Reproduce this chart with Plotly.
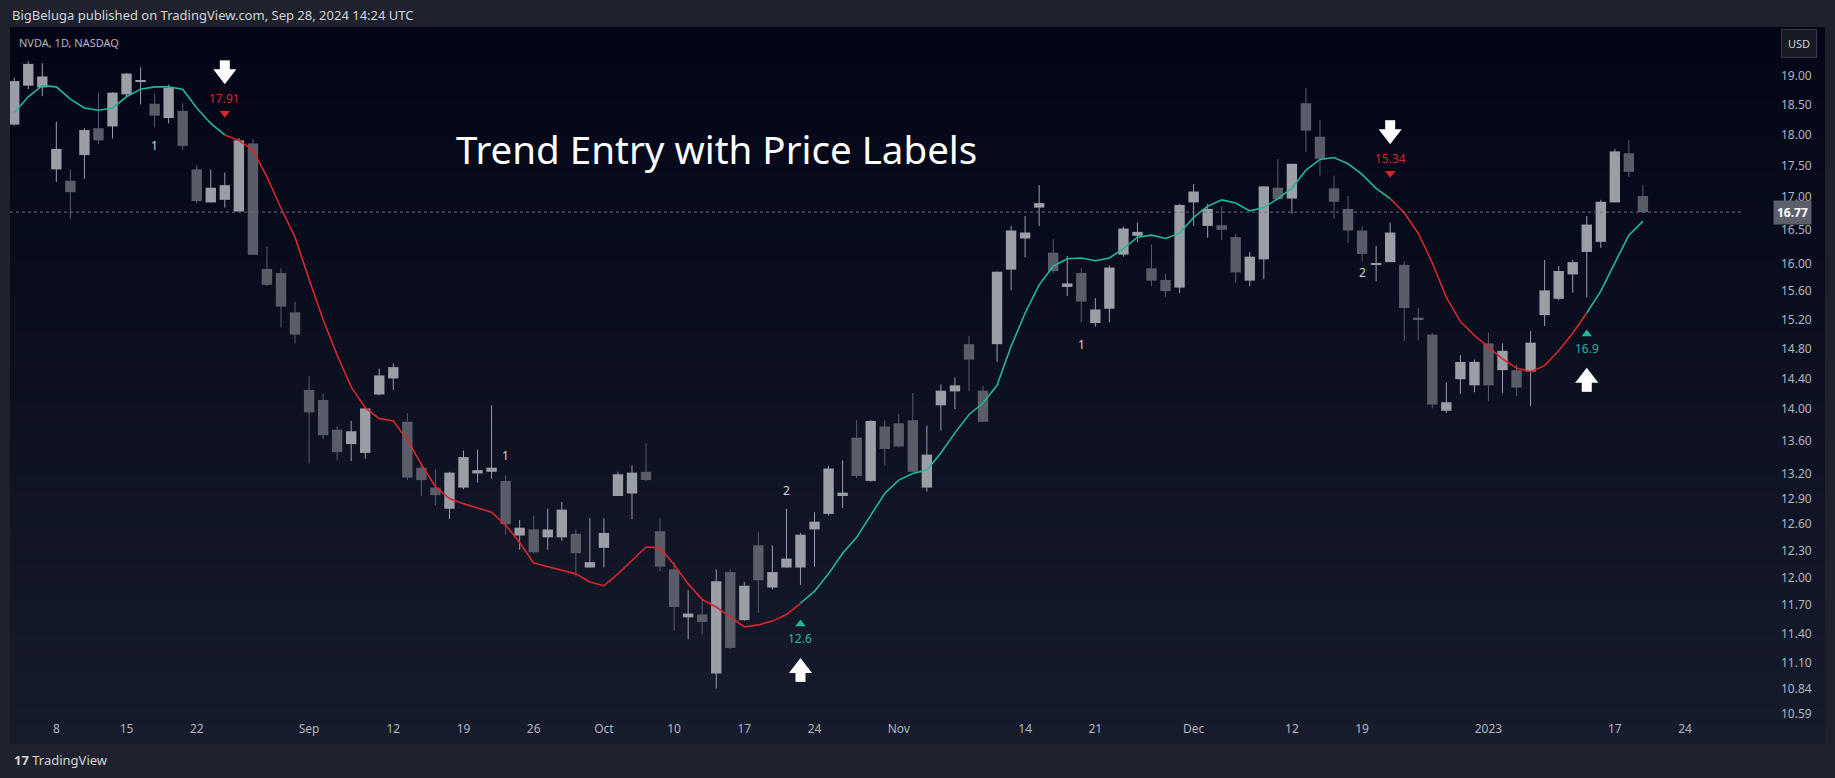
import math
import pandas as pd
import plotly.graph_objects as go

# ---------------- data ----------------
OPEN = [18.17,18.83,18.80,17.44,17.26,17.67,18.11,18.14,18.68,18.90,18.52,18.28,18.40,17.44,16.92,16.96,16.78,17.86,15.92,15.86,
        15.30,14.25,14.12,13.74,13.56,13.45,14.19,14.40,13.84,13.27,13.03,12.78,13.03,13.20,13.22,13.11,12.47,12.54,12.45,12.45,
        12.49,12.11,12.33,12.93,12.96,13.22,12.52,12.09,11.57,11.60,10.99,12.06,11.54,12.36,11.89,12.11,12.11,12.54,12.72,12.93,
        13.64,13.11,13.78,13.82,13.86,13.03,14.05,14.23,14.86,14.24,14.86,15.91,16.37,16.84,16.16,15.66,15.86,15.15,15.35,16.13,
        16.41,15.93,15.76,15.65,16.92,16.56,16.57,16.39,15.75,16.06,17.15,16.98,18.53,17.97,17.14,16.82,16.49,15.98,16.02,15.98,
        15.22,14.99,13.98,14.39,14.31,14.87,14.51,14.51,14.49,15.26,15.49,15.84,16.17,16.32,16.92,17.70,17.02]
HIGH = [18.97,19.26,19.22,18.22,17.44,18.11,18.70,18.72,19.05,19.15,18.69,18.85,18.53,17.50,17.44,17.39,17.95,17.93,16.25,15.93,
        15.45,14.43,14.20,13.78,13.85,14.01,14.53,14.60,13.95,13.31,13.25,13.22,13.48,13.49,14.05,13.18,12.65,12.70,12.78,12.86,
        12.54,12.67,12.67,13.22,13.30,13.57,12.67,12.17,11.86,11.76,12.09,12.09,11.95,12.51,12.36,12.78,12.50,12.74,13.29,13.36,
        13.86,13.86,13.86,13.94,14.21,13.79,14.32,14.41,14.97,14.30,15.88,16.56,16.71,17.19,16.36,16.11,15.93,15.50,15.97,16.55,
        16.61,16.28,15.85,16.90,17.21,16.90,16.86,16.44,16.17,17.17,17.61,17.53,18.79,18.25,17.34,17.02,16.55,16.26,16.61,16.03,
        15.36,15.01,14.35,14.71,14.65,15.02,14.87,14.59,15.04,16.05,15.96,16.05,16.71,16.96,17.77,17.92,17.20]
LOW = [18.15,18.77,18.65,17.24,16.67,17.29,17.85,17.94,18.64,18.51,18.13,18.19,17.75,16.90,16.92,16.84,16.78,16.13,15.67,15.09,
       14.87,13.32,13.62,13.36,13.35,13.38,14.18,14.25,13.12,12.93,12.82,12.66,13.01,13.09,13.14,12.48,12.31,12.26,12.31,12.41,
       12.01,12.11,12.11,12.93,12.66,13.11,12.07,11.43,11.34,11.39,10.84,11.24,11.53,11.62,11.87,12.11,11.92,12.12,12.70,12.79,
       13.14,13.10,13.30,13.52,13.22,12.98,13.73,14.00,14.23,13.84,14.62,15.61,16.09,16.56,15.86,15.53,15.16,15.10,15.16,16.10,
       16.31,15.67,15.51,15.57,16.56,16.38,16.35,15.72,15.67,15.77,16.95,16.75,17.72,17.34,16.67,16.30,16.03,15.74,16.02,14.90,
       14.91,14.01,13.95,14.20,14.22,14.11,14.21,14.17,14.04,15.11,15.47,15.58,15.51,16.23,16.92,17.32,16.76]
CLOSE = [18.91,19.21,18.99,17.77,17.08,18.08,17.91,18.71,19.04,18.91,18.32,18.79,17.82,16.94,17.15,17.19,17.91,16.13,15.69,15.38,
         14.99,13.96,13.67,13.46,13.72,14.01,14.44,14.55,13.15,13.12,12.94,13.21,13.40,13.24,13.27,12.60,12.56,12.28,12.54,12.77,
         12.27,12.17,12.50,13.19,13.21,13.12,12.12,11.68,11.61,11.52,11.96,11.25,11.91,11.97,12.06,12.21,12.48,12.63,13.26,12.97,
         13.17,13.85,13.50,13.53,13.22,13.43,14.24,14.31,14.65,13.84,15.88,16.49,16.46,16.91,15.89,15.71,15.45,15.34,15.94,16.52,
         16.47,15.75,15.60,16.88,17.09,16.82,16.50,15.87,16.10,17.17,16.97,17.53,18.07,17.61,16.93,16.49,16.14,15.99,16.46,15.36,
         15.20,14.06,14.09,14.62,14.62,14.31,14.77,14.28,14.88,15.61,15.89,16.02,16.58,16.93,17.73,17.40,16.77]
TREND_LINE = [18.37,18.64,18.83,18.81,18.60,18.45,18.41,18.45,18.64,18.77,18.81,18.81,18.77,18.45,18.19,18.00,17.91,17.75,17.32,16.83,
              16.39,15.77,15.20,14.71,14.29,14.02,13.88,13.85,13.61,13.31,13.04,12.90,12.84,12.79,12.74,12.59,12.39,12.16,12.12,12.08,
              12.04,11.95,11.91,12.04,12.19,12.34,12.33,12.14,11.93,11.76,11.68,11.57,11.47,11.49,11.53,11.60,11.72,11.85,12.04,12.27,
              12.45,12.70,12.96,13.12,13.20,13.24,13.45,13.70,13.93,14.08,14.31,14.83,15.29,15.69,15.96,16.07,16.08,16.04,16.08,16.22,
              16.39,16.42,16.37,16.45,16.69,16.86,16.96,16.91,16.79,16.84,16.98,17.14,17.43,17.60,17.63,17.53,17.36,17.14,16.98,16.76,
              16.45,16.01,15.51,15.17,14.98,14.82,14.66,14.54,14.49,14.57,14.77,15.01,15.29,15.60,16.01,16.42,16.63]
TREND_SWITCH = [0, 15, 56, 98, 112]          # bar index where trend flips
TREND_DIR = ["up", "dn", "up", "dn", "up"]

SIGNAL_IDX = [15, 56, 98, 112]
SIGNAL_DIR = ["dn", "up", "dn", "up"]
SIGNAL_TEXT = ["17.91", "12.6", "15.34", "16.9"]
SIGNAL_ANCHOR = [18.36, 11.50, 17.38, 15.00]  # price where the small triangle sits

COUNT_IDX = [10, 35, 55, 76, 96]
COUNT_TEXT = ["1", "1", "2", "1", "2"]
COUNT_Y = [17.82, 13.42, 13.00, 14.86, 15.87]

LAST_PRICE = 16.77
HOLIDAYS = ["2022-09-05", "2022-11-24", "2022-12-26", "2023-01-02", "2023-01-16"]
YTICKS = [10.59, 10.84, 11.10, 11.40, 11.70, 12.00, 12.30, 12.60, 12.90, 13.20, 13.60, 14.00, 14.40,
          14.80, 15.20, 15.60, 16.00, 16.50, 17.00, 17.50, 18.00, 18.50, 19.00]
XTICK_DATES = ["2022-08-08", "2022-08-15", "2022-08-22", "2022-09-01", "2022-09-12", "2022-09-19", "2022-09-26",
               "2022-10-03", "2022-10-10", "2022-10-17", "2022-10-24", "2022-11-01", "2022-11-14", "2022-11-21",
               "2022-12-01", "2022-12-12", "2022-12-19", "2023-01-03", "2023-01-17", "2023-01-24"]
XTICK_TEXT = ["8", "15", "22", "Sep", "12", "19", "26", "Oct", "10", "17", "24", "Nov", "14", "21",
              "Dec", "12", "19", "2023", "17", "24"]

# ---------------- build ----------------
days = pd.bdate_range("2022-08-03", "2023-02-10")
days = [d for d in days if d.strftime("%Y-%m-%d") not in HOLIDAYS]
dmap = {d.strftime("%Y-%m-%d"): i for i, d in enumerate(days)}
n = len(CLOSE)
X = list(range(n))

UP_C = "#22b997"
DN_C = "#d8262c"
BULL = "#9b9ea6"
BEAR = "#5a5d68"

W, H = 1835, 778
L_M, R_M, T_M, B_M = 10, 91, 27, 62
PW, PH = W - L_M - R_M, H - T_M - B_M
def px(xp): return (xp - L_M) / PW
def py(yp): return (H - B_M - yp) / PH
PXLN = 1093.0  # pixels per ln unit on price axis
def shift(price, pixels): return price * math.exp(pixels / PXLN)

fig = go.Figure()

# background gradient of panel
top_rgb = (2, 6, 23); bot_rgb = (23, 28, 44)
NB = 40
y0p, y1p = 27, 743
for k in range(NB):
    t = k / (NB - 1)
    c = tuple(int(top_rgb[j] + (bot_rgb[j] - top_rgb[j]) * t) for j in range(3))
    ya = y0p + (y1p - y0p) * k / NB
    yb = y0p + (y1p - y0p) * (k + 1) / NB + 1
    fig.add_shape(type="rect", xref="paper", yref="paper", x0=px(10), x1=px(1825),
                  y0=py(ya), y1=py(yb), fillcolor="rgb(%d,%d,%d)" % c, line_width=0, layer="below")

# last price dotted line
fig.add_shape(type="line", xref="paper", yref="y", x0=0, x1=1, y0=LAST_PRICE, y1=LAST_PRICE,
              line=dict(color="#6b6f7a", width=1, dash="dot"))

# candles: wicks + bodies
for bull, col in ((True, BULL), (False, BEAR)):
    idx = [i for i in X if (CLOSE[i] >= OPEN[i]) == bull]
    wx, wy = [], []
    for i in idx:
        wx += [i, i, None]; wy += [LOW[i], HIGH[i], None]
    fig.add_trace(go.Scatter(x=wx, y=wy, mode="lines", line=dict(color=col, width=1),
                             hoverinfo="skip", showlegend=False))
    base = [min(OPEN[i], CLOSE[i]) for i in idx]
    hgt = [max(abs(CLOSE[i] - OPEN[i]), 0.025) for i in idx]
    fig.add_trace(go.Bar(x=idx, y=hgt, base=base, width=0.74, marker=dict(color=col, line_width=0),
                         hoverinfo="skip", showlegend=False))

# trend line segments
bounds = TREND_SWITCH + [n - 1]
for s in range(len(TREND_SWITCH)):
    a, b = bounds[s], bounds[s + 1]
    fig.add_trace(go.Scatter(x=X[a:b + 1], y=TREND_LINE[a:b + 1], mode="lines",
                             line=dict(color=UP_C if TREND_DIR[s] == "up" else DN_C, width=1.6),
                             hoverinfo="skip", showlegend=False))

# signals
for i, d, txt, yv in zip(SIGNAL_IDX, SIGNAL_DIR, SIGNAL_TEXT, SIGNAL_ANCHOR):
    col = UP_C if d == "up" else DN_C
    sgn = -1 if d == "up" else 1
    tri = "triangle-up" if d == "up" else "triangle-down"
    fig.add_trace(go.Scatter(x=[i], y=[yv], mode="markers",
                             marker=dict(symbol=tri, size=9, color=col), hoverinfo="skip", showlegend=False))
    fig.add_annotation(x=i, y=math.log10(shift(yv, sgn * 15)), text=txt, showarrow=False,
                       xanchor="center", yanchor="middle",
                       font=dict(color=col, size=12, family="Noto Sans"))
    off_s, off_h = (48, 39) if d == "dn" else (53, 44)
    stem_y = shift(yv, sgn * off_s)
    head_y = shift(yv, sgn * off_h)
    fig.add_trace(go.Scatter(x=[i], y=[stem_y], mode="markers",
                             marker=dict(symbol="square", size=10, color="white", line_width=0),
                             hoverinfo="skip", showlegend=False))
    fig.add_trace(go.Scatter(x=[i], y=[head_y], mode="markers",
                             marker=dict(symbol="triangle-down" if d == "dn" else "triangle-up", size=20,
                                         color="white", line_width=0),
                             hoverinfo="skip", showlegend=False))

for i, txt, yv in zip(COUNT_IDX, COUNT_TEXT, COUNT_Y):
    fig.add_annotation(x=i, y=math.log10(yv), text=txt, showarrow=False, xanchor="center", yanchor="middle",
                       font=dict(color="#d1d4dc", size=12, family="Noto Sans"))

def note(xp, yp, text, size, color, xanchor="center", **kw):
    fig.add_annotation(xref="paper", yref="paper", x=px(xp), y=py(yp), text=text, showarrow=False,
                       xanchor=xanchor, yanchor="middle", font=dict(color=color, size=size, family="Noto Sans"), **kw)

note(716, 149, "Trend Entry with Price Labels", 38.5, "white")
note(10, 15, "BigBeluga published on TradingView.com, Sep 28, 2024 14:24 UTC", 13, "#d1d4dc", "left")
note(17, 42, "NVDA, 1D, NASDAQ", 11, "#b2b5be", "left")
note(12, 760, "<b>17</b> TradingView", 13, "#d1d4dc", "left")
note(1799, 44, "USD", 11, "#d1d4dc", bgcolor="#161a25", bordercolor="#363a45", borderwidth=1, borderpad=6)
fig.add_annotation(xref="paper", yref="y", x=px(1792), y=math.log10(LAST_PRICE), text="<b>16.77</b>",
                   showarrow=False, xanchor="center", yanchor="middle",
                   font=dict(color="white", size=12, family="Noto Sans"), bgcolor="#5d606b", borderpad=3)

xt = [dmap[d] for d in XTICK_DATES]
fig.update_layout(
    width=W, height=H, margin=dict(l=L_M, r=R_M, t=T_M, b=B_M),
    paper_bgcolor="#1f222c", plot_bgcolor="rgba(0,0,0,0)",
    hovermode=False, showlegend=False, barmode="overlay",
    xaxis=dict(range=[-0.3, 123.2], tickvals=xt, ticktext=XTICK_TEXT, showgrid=False, zeroline=False,
               tickfont=dict(color="#b2b5be", size=12, family="Noto Sans"),
               ticks="", ticklabelstandoff=4, showline=False),
    yaxis=dict(type="log", range=[math.log10(10.57), math.log10(19.87)], side="right", tickvals=YTICKS,
               ticktext=["%.2f" % v for v in YTICKS], showgrid=False, zeroline=False, ticks="",
               tickfont=dict(color="#b2b5be", size=12, family="Noto Sans"), ticklabelstandoff=36),
)
fig.write_html("out.html", config={"displayModeBar": False},
               post_script="document.body.style.margin='0';document.body.style.background='#1f222c';")
